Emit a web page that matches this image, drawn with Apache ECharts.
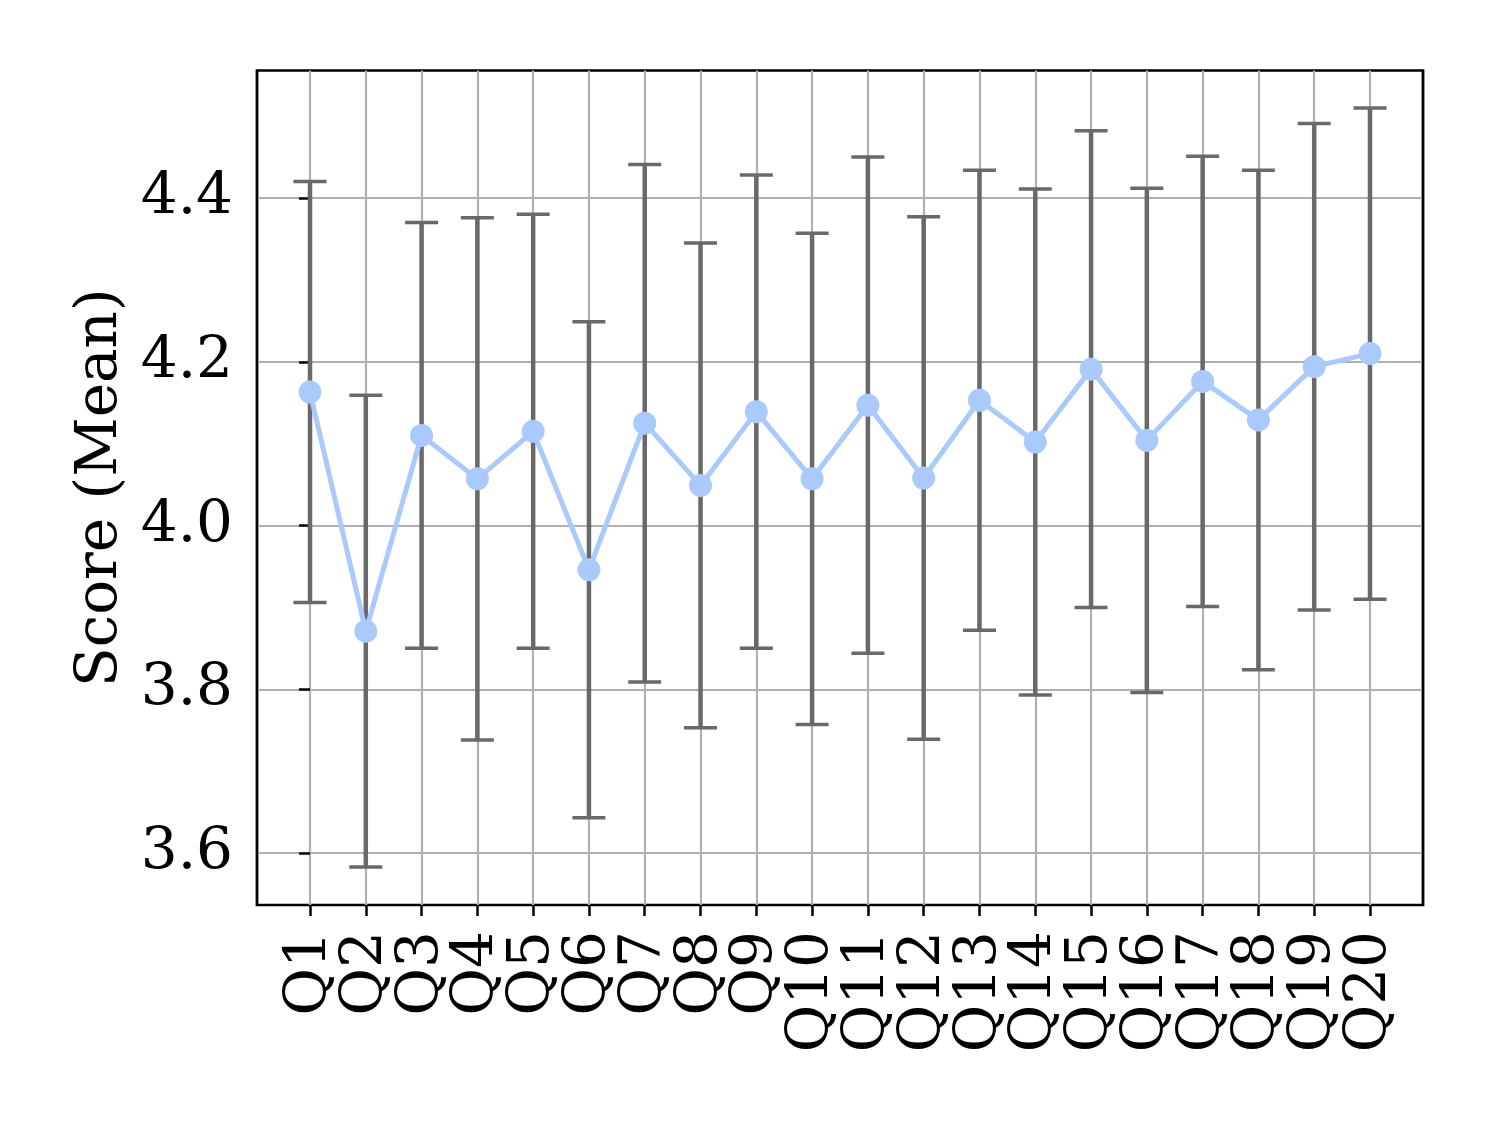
<!DOCTYPE html>
<html>
<head>
<meta charset="utf-8">
<style>
  html, body { margin: 0; padding: 0; background: #fff; }
  #main { width: 1494px; height: 1121px; }
</style>
<script src="https://cdn.jsdelivr.net/npm/echarts@6/dist/echarts.min.js"></script>
</head>
<body>
<div id="main"></div>
<script>
// questions on the x axis
var questions = ['Q1', 'Q2', 'Q3', 'Q4', 'Q5', 'Q6', 'Q7', 'Q8', 'Q9', 'Q10',
  'Q11', 'Q12', 'Q13', 'Q14', 'Q15', 'Q16', 'Q17', 'Q18', 'Q19', 'Q20'];
// mean score per question
var meanScore = [4.163, 3.871, 4.110, 4.057, 4.115, 3.946, 4.125, 4.049, 4.139, 4.057,
  4.147, 4.058, 4.153, 4.102, 4.191, 4.104, 4.176, 4.129, 4.194, 4.210];
// half length of the error bar (std)
var stdScore = [0.257, 0.288, 0.260, 0.319, 0.265, 0.303, 0.316, 0.296, 0.289, 0.300,
  0.303, 0.319, 0.281, 0.309, 0.291, 0.308, 0.275, 0.305, 0.297, 0.300];
var yTicks = [3.6, 3.8, 4.0, 4.2, 4.4];

var font = "'DejaVu Serif', 'Liberation Serif', serif";
var xMin = -0.95, xMax = 19.95;
// the two end values are only placeholders so that Q1 and Q20 are not the min/max labels
var xTicks = [xMin].concat(questions.map(function (q, i) { return i; })).concat([xMax]);
// grid lines: the two placeholder lines sit on the frame, so keep them black
var xGridColors = xTicks.map(function (v, i) {
  return (i === 0 || i === xTicks.length - 1) ? '#000' : '#b0b0b0';
});

var lineData = meanScore.map(function (m, i) { return [i, m]; });
var errData = meanScore.map(function (m, i) {
  return [i, m - stdScore[i], m + stdScore[i]];
});

var myChart = echarts.init(document.getElementById('main'));
myChart.setOption({
  animation: false,
  grid: {
    left: 257,
    right: 71,
    top: 70.5,
    bottom: 216,
    show: true,
    borderColor: '#000',
    borderWidth: 2.7,
    backgroundColor: 'transparent'
  },
  xAxis: {
    type: 'value',
    min: xMin,
    max: xMax,
    axisLine: { show: false },
    axisTick: {
      show: true,
      customValues: xTicks,
      length: 11,
      lineStyle: { color: '#000', width: 2.5 }
    },
    splitLine: {
      show: true,
      lineStyle: { color: xGridColors, width: 2.2 }
    },
    axisLabel: {
      customValues: xTicks,
      showMinLabel: false,
      showMaxLabel: false,
      hideOverlap: false,
      rotate: 90,
      margin: 26,
      fontFamily: font,
      fontSize: 58,
      color: '#000',
      formatter: function (v) {
        var i = Math.round(v);
        return (Math.abs(v - i) < 1e-6 && questions[i]) ? questions[i] : ' ';
      }
    }
  },
  yAxis: {
    type: 'value',
    min: 3.5366,
    max: 4.5557,
    name: 'Score (Mean)',
    nameLocation: 'middle',
    nameGap: 127,
    nameTextStyle: { fontFamily: font, fontSize: 58, color: '#000' },
    axisLine: { show: false },
    axisTick: {
      show: true,
      customValues: yTicks,
      length: 11,
      lineStyle: { color: '#000', width: 2.5 }
    },
    splitLine: {
      show: true,
      lineStyle: { color: '#b0b0b0', width: 2.2 }
    },
    axisLabel: {
      customValues: yTicks,
      showMinLabel: true,
      showMaxLabel: true,
      margin: 24,
      fontFamily: font,
      fontSize: 58,
      color: '#000',
      formatter: function (v) { return v.toFixed(1); }
    }
  },
  series: [
    {
      name: 'std',
      type: 'custom',
      z: 2,
      encode: { x: 0, y: [1, 2] },
      data: errData,
      renderItem: function (params, api) {
        var x = api.value(0);
        var top = api.coord([x, api.value(2)]);
        var bot = api.coord([x, api.value(1)]);
        var hw = 16.5;
        var barStyle = { stroke: '#696969', lineWidth: 4.5 };
        var capStyle = { stroke: '#696969', lineWidth: 3.5 };
        return {
          type: 'group',
          children: [
            { type: 'line', shape: { x1: top[0], y1: top[1], x2: bot[0], y2: bot[1] }, style: barStyle },
            { type: 'line', shape: { x1: top[0] - hw, y1: top[1], x2: top[0] + hw, y2: top[1] }, style: capStyle },
            { type: 'line', shape: { x1: bot[0] - hw, y1: bot[1], x2: bot[0] + hw, y2: bot[1] }, style: capStyle }
          ]
        };
      }
    },
    {
      name: 'mean',
      type: 'line',
      z: 3,
      data: lineData,
      symbol: 'circle',
      symbolSize: 23,
      itemStyle: { color: '#aac9fc' },
      lineStyle: { color: '#aac9fc', width: 5 }
    }
  ]
});
</script>
</body>
</html>
